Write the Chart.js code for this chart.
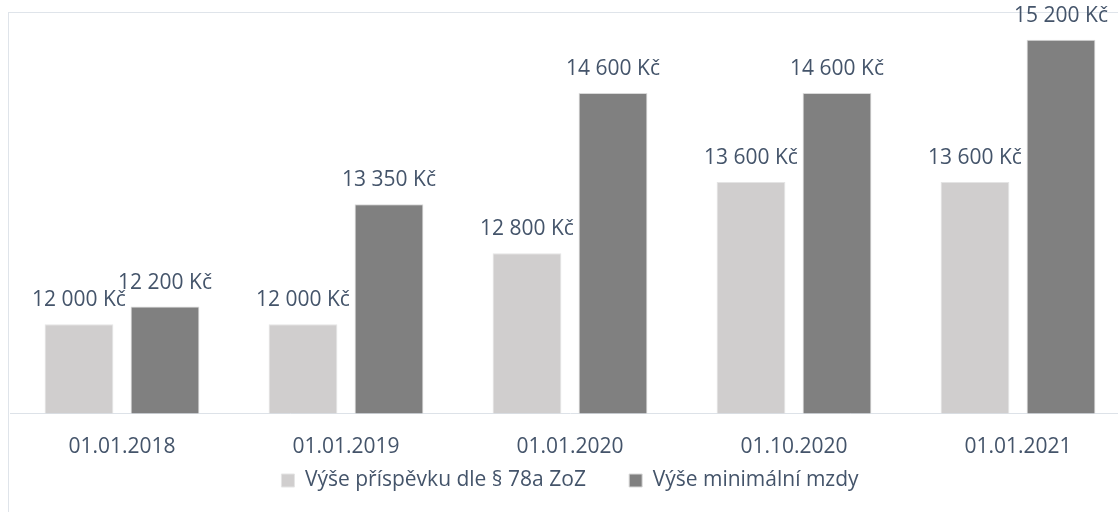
<!DOCTYPE html>
<html>
<head>
<meta charset="utf-8">
<script src="https://cdn.jsdelivr.net/npm/chart.js@4/dist/chart.umd.min.js"></script>
<style>
  html, body { margin:0; padding:0; background:#fff; overflow:hidden; }
  body { width:1118px; height:512px; position:relative; }
  #frame { position:absolute; left:8px; top:12px; width:1200px; height:600px; border:1px solid #dfe4ea; }
  #wrap { position:absolute; left:0; top:0; width:1140px; height:512px; }
</style>
</head>
<body>
<div id="frame"></div>
<div id="wrap"><canvas id="ch"></canvas></div>
<script>
const categories = ["01.01.2018","01.01.2019","01.01.2020","01.10.2020","01.01.2021"];
const prispevek = [12000, 12000, 12800, 13600, 13600];
const minMzda = [12200, 13350, 14600, 14600, 15200];
const seriesNames = ["Výše příspěvku dle § 78a ZoZ", "Výše minimální mzdy"];

const FONT = "'Open Sans', sans-serif";
const TXT = "#44546a";

function kc(v){
  return String(v).replace(/\B(?=(\d{3})+(?!\d))/g, " ") + " Kč";
}

// popisky nad sloupci
const barLabels = {
  id: "barLabels",
  afterDatasetsDraw(chart){
    const ctx = chart.ctx;
    ctx.save();
    ctx.font = "21px " + FONT;
    ctx.fillStyle = TXT;
    ctx.textAlign = "center";
    ctx.textBaseline = "alphabetic";
    chart.data.datasets.forEach((ds, i) => {
      const meta = chart.getDatasetMeta(i);
      meta.data.forEach((bar, j) => {
        ctx.fillText(kc(ds.data[j]), bar.x, bar.y - 18);
      });
    });
    ctx.restore();
  }
};

new Chart(document.getElementById("ch"), {
  type: "bar",
  data: {
    labels: categories,
    datasets: [
      { label: seriesNames[0], data: prispevek, backgroundColor: "#d0cece", borderColor: "#e4e4e4", borderWidth: 1 },
      { label: seriesNames[1], data: minMzda, backgroundColor: "#808080", borderColor: "#d9d9d9", borderWidth: 1 }
    ]
  },
  options: {
    responsive: true,
    maintainAspectRatio: false,
    animation: false,
    categoryPercentage: 0.768,
    barPercentage: 0.80,
    layout: { padding: { left: 10, right: 10, top: 13, bottom: 11 } },
    scales: {
      x: {
        grid: { display: false, drawTicks: false },
        border: { display: true, color: "#dde2e8", width: 1 },
        ticks: { color: TXT, font: { family: FONT, size: 21 }, padding: 21, maxRotation: 0 },
        afterFit(scale){ scale.height = 46.2; }
      },
      y: { display: false, min: 11000, max: 15500 }
    },
    plugins: {
      legend: {
        position: "bottom",
        labels: {
          color: TXT,
          font: { family: FONT, size: 21 },
          boxWidth: 13, boxHeight: 13,
          padding: 10.5,
          // mezera mezi položkami legendy
          generateLabels(c){
            const items = Chart.defaults.plugins.legend.labels.generateLabels(c);
            items[0].text += "      ";
            return items;
          }
        }
      },
      tooltip: { enabled: false }
    }
  },
  plugins: [barLabels]
});
</script>
</body>
</html>
